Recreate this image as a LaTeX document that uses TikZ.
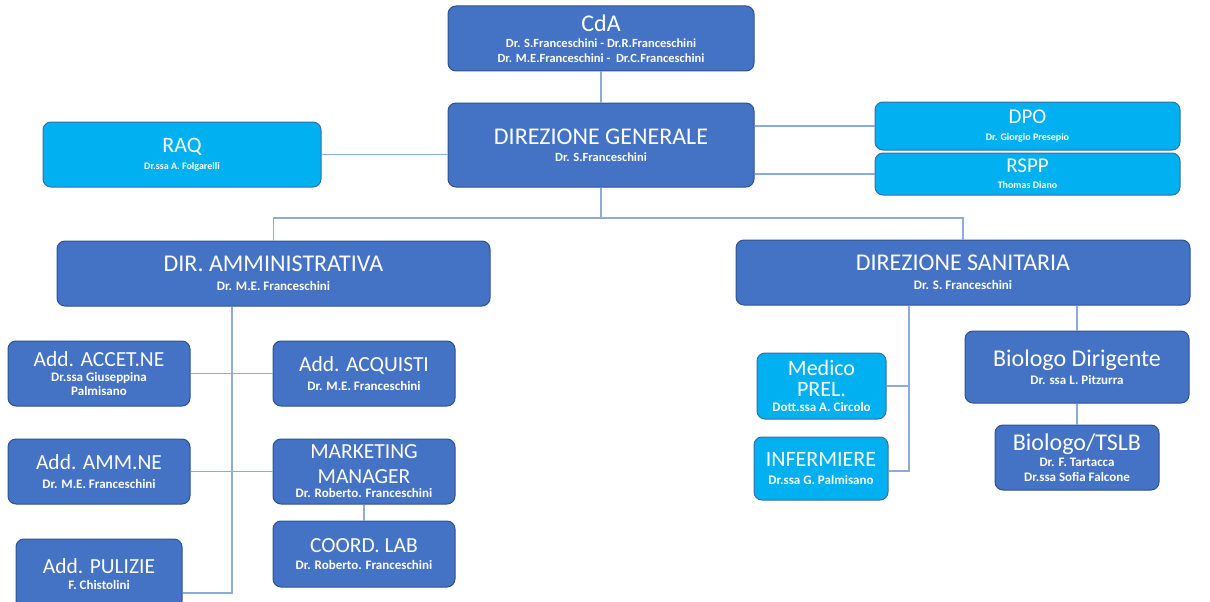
\documentclass[tikz,border=0pt]{standalone}
\usepackage{fontspec}
\setmainfont{Carlito}
\definecolor{boxblue}{HTML}{4472C4}
\definecolor{boxedge}{HTML}{2F528F}
\definecolor{skyfill}{HTML}{00B0F0}
\definecolor{skyedge}{HTML}{3A6EA5}
\definecolor{wire}{HTML}{8FAADC}
\newcommand{\ttl}[2][22]{{\fontsize{#1}{#1}\selectfont #2}}
\newcommand{\who}[2][13]{{\fontsize{#1}{#1}\selectfont\bfseries #2}}
\begin{document}
\begin{tikzpicture}[x=1pt,y=-1pt,
    dbox/.style={draw=boxedge,fill=boxblue,line width=1pt,rounded corners=8pt,
      text=white,align=center,inner sep=1pt},
    lbox/.style={dbox,draw=skyedge,fill=skyfill},
    link/.style={draw=wire,line width=1.2pt}]
  \useasboundingbox (0,0) rectangle (1210,602);
  % top
  \node[dbox,minimum width=306,minimum height=65] (cda) at (601,38.5)
    {\ttl[24]{CdA}\\[4pt]\who[12.5]{Dr. S.Franceschini - Dr.R.Franceschini}\\[3pt]\who[12.5]{Dr. M.E.Franceschini -\ \ Dr.C.Franceschini}};
  \node[dbox,minimum width=306,minimum height=84] (dg) at (601,145)
    {\ttl[24]{DIREZIONE GENERALE}\\[5pt]\who[12.5]{Dr. S.Franceschini}};
  \node[lbox,minimum width=278,minimum height=65] (raq) at (182,154.5)
    {\ttl[22]{RAQ}\\[5pt]\who[10]{Dr.ssa A. Folgarelli}};
  \node[lbox,minimum width=305,minimum height=48] (dpo) at (1027.5,126)
    {\ttl[21]{DPO}\\[5pt]\who[10]{Dr. Giorgio Presepio}};
  \node[lbox,minimum width=305,minimum height=42] (rspp) at (1027.5,174)
    {\ttl[21]{RSPP}\\[4pt]\who[10]{Thomas Diano}};
  % directions
  \node[dbox,minimum width=433,minimum height=65] (amm) at (273.5,273.5)
    {\ttl[24]{DIR. AMMINISTRATIVA}\\[7pt]\who{Dr. M.E. Franceschini}};
  \node[dbox,minimum width=454,minimum height=65] (san) at (963,272.5)
    {\ttl[24]{DIREZIONE SANITARIA}\\[7pt]\who{Dr. S. Franceschini}};
  % administration
  \node[dbox,minimum width=182,minimum height=65] (accet) at (99,373.5)
    {\ttl[21.5]{Add. ACCET.NE}\\[3pt]\who{Dr.ssa Giuseppina}\\[2pt]\who{Palmisano}};
  \node[dbox,minimum width=182,minimum height=65] (acq) at (364,373.5)
    {\ttl[21.5]{Add. ACQUISTI}\\[7pt]\who{Dr. M.E. Franceschini}};
  \node[dbox,minimum width=182,minimum height=65] (ammne) at (99,471.5)
    {\ttl[21.5]{Add. AMM.NE}\\[7pt]\who{Dr. M.E. Franceschini}};
  \node[dbox,minimum width=182,minimum height=65] (mkt) at (364,471.5)
    {\ttl[21.5]{MARKETING}\\[10pt]\ttl[21.5]{MANAGER}\\[2pt]\who{Dr. Roberto. Franceschini}};
  \node[dbox,minimum width=182,minimum height=66] (coord) at (364,554)
    {\ttl[21.5]{COORD. LAB}\\[5pt]\who{Dr. Roberto. Franceschini}};
  \node[dbox,minimum width=166,minimum height=70] (pul) at (99,574)
    {\ttl[21.5]{Add. PULIZIE}\\[4pt]\who{F. Chistolini}};
  % health
  \node[lbox,minimum width=129,minimum height=66] (medico) at (821.5,386)
    {\ttl[22]{Medico}\\[6pt]\ttl[22]{PREL.}\\[3pt]\who{Dott.ssa A. Circolo}};
  \node[lbox,minimum width=134,minimum height=63] (inf) at (821,468.5)
    {\ttl[22]{INFERMIERE}\\[6pt]\who{Dr.ssa G. Palmisano}};
  \node[dbox,minimum width=224,minimum height=72] (bdir) at (1077,367)
    {\ttl[24]{Biologo Dirigente}\\[4pt]\who{Dr. ssa L. Pitzurra}};
  \node[dbox,minimum width=164,minimum height=65] (btslb) at (1077,457.5)
    {\ttl[24]{Biologo/TSLB}\\[2pt]\who{Dr. F. Tartacca}\\[3pt]\who{Dr.ssa Sofia Falcone}};
  % connectors
  \coordinate (bus) at (601,218);
  \coordinate (lbot) at (232,593);
  \coordinate (rbot) at (909,471);
  \draw[link] (cda.south) -- (dg.north);
  \draw[link] (raq.east) -- (raq.east -| dg.west);
  \draw[link] (dpo.west) -- (dpo.west -| dg.east);
  \draw[link] (rspp.west) -- (rspp.west -| dg.east);
  \draw[link] (dg.south) -- (bus);
  \draw[link] (amm.north) |- (bus) -| (san.north);
  \draw[link] (lbot |- amm.south) -- (lbot) -- (lbot -| pul.east);
  \draw[link] (accet.east) -- (acq.west);
  \draw[link] (ammne.east) -- (mkt.west);
  \draw[link] (mkt.south) -- (coord.north);
  \draw[link] (rbot |- san.south) -- (rbot) -- (rbot -| inf.east);
  \draw[link] (medico.east) -- (medico.east -| rbot);
  \draw[link] (san.south -| bdir.north) -- (bdir.north);
  \draw[link] (bdir.south) -- (btslb.north);
\end{tikzpicture}
\end{document}
